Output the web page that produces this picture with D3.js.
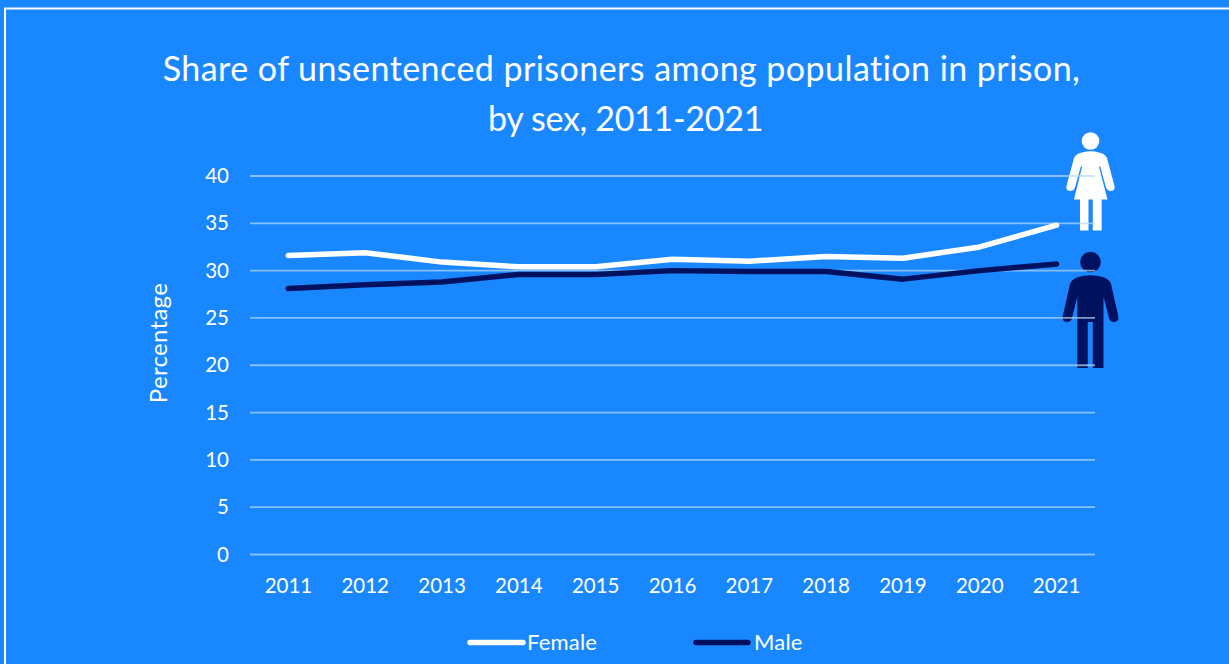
<!DOCTYPE html>
<html><head><meta charset="utf-8">
<script src="https://cdn.jsdelivr.net/npm/d3@7/dist/d3.min.js"></script>
<style>html,body{margin:0;padding:0;background:#1987ff;overflow:hidden}
text{font-family:"Lato",sans-serif;fill:#fff}</style></head>
<body><svg id="c" width="1229" height="664"></svg>
<script>
const years=["2011","2012","2013","2014","2015","2016","2017","2018","2019","2020","2021"];
const female=[31.6,31.9,30.9,30.4,30.4,31.2,31.0,31.5,31.3,32.5,34.8];
const male=[28.1,28.5,28.8,29.6,29.6,30.0,29.9,29.9,29.1,30.0,30.7];
const yTicks=[0,5,10,15,20,25,30,35,40];
const titleLines=["Share of unsentenced prisoners among population in prison,","by sex, 2011-2021"];
const seriesNames=["Female","Male"];
const colors={Female:"#ffffff",Male:"#001160"};

const svg=d3.select("#c");
svg.append("rect").attr("x",5).attr("y",8.5).attr("width",1300).attr("height",700)
  .attr("fill","none").attr("stroke","#fff").attr("stroke-width",2);

const x=d3.scaleBand().domain(years).range([250,1095]);
const y=d3.scaleLinear().domain([0,40]).range([554.5,176]);

// icons sit under the gridlines
const woman=svg.append("g").attr("fill","#fff");
woman.append("circle").attr("cx",1090.5).attr("cy",141).attr("r",8.8);
woman.append("path").attr("d","M1082 152.5 Q1090.5 150 1099 152.5 Q1105 153.5 1107 158 L1114.5 186 Q1115.5 190.5 1111 191 Q1107.5 191 1106 187.5 L1100 166 L1099 167 L1107.5 199.5 L1101.7 199.5 L1101.7 230.5 L1092.8 230.5 L1092.8 199.5 L1088.5 199.5 L1088.5 230.5 L1080 230.5 L1080 199.5 L1074 199.5 L1082 167 L1081 166 L1075 187.5 Q1073.5 191 1070 191 Q1065.5 190.5 1066.5 186 L1074 158 Q1076 153.5 1082 152.5 Z");
const man=svg.append("g").attr("fill","#001160");
man.append("circle").attr("cx",1090.5).attr("cy",262).attr("r",10.3);
man.append("path").attr("d","M1078 277 Q1090.5 273.5 1103 277 Q1110 280 1111 284 L1118.5 317 Q1119 321.5 1114 322 Q1110 322 1109 318 L1103.5 297 L1103.5 368 L1092.8 368 L1092.8 322 L1087.7 322 L1087.7 368 L1077.3 368 L1077.3 297 L1072 318 Q1071 322 1067 322 Q1062 321.5 1062.5 317 L1070 284 Q1071 280 1078 277 Z");

svg.append("g").selectAll("line").data(yTicks).join("line")
  .attr("x1",250).attr("x2",1095).attr("y1",d=>y(d)).attr("y2",d=>y(d))
  .attr("stroke","#b5d8ff").attr("stroke-opacity",0.7).attr("stroke-width",1.8);

svg.append("g").selectAll("text").data(yTicks).join("text")
  .attr("x",229).attr("y",d=>y(d)+7).attr("text-anchor","end").attr("font-size",20.5).text(d=>d);
svg.append("g").selectAll("text").data(years).join("text")
  .attr("x",d=>x(d)+x.bandwidth()/2).attr("y",593).attr("text-anchor","middle").attr("font-size",20.5).text(d=>d);

svg.append("text").attr("transform","translate(167,343) rotate(-90)")
  .attr("text-anchor","middle").attr("font-size",24).attr("letter-spacing",0.3).text("Percentage");

svg.append("g").selectAll("text").data(titleLines).join("text")
  .attr("x",(d,i)=>i?625.5:621.5).attr("y",(d,i)=>81+i*50).attr("text-anchor","middle")
  .attr("font-size",34).attr("letter-spacing",(d,i)=>i?-0.3:0.45).text(d=>d);

const line=d3.line().x((d,i)=>x(years[i])+x.bandwidth()/2).y(d=>y(d));
[[female,"Female"],[male,"Male"]].forEach(([vals,n])=>{
  svg.append("path").datum(vals).attr("d",line).attr("fill","none")
    .attr("stroke",colors[n]).attr("stroke-width",5.5).attr("stroke-linecap","round").attr("stroke-linejoin","round");
});

const lg=[{n:"Female",x1:470,x2:523,t:527},{n:"Male",x1:696,x2:748,t:754}];
lg.forEach(l=>{
  svg.append("line").attr("x1",l.x1).attr("x2",l.x2).attr("y1",642.5).attr("y2",642.5)
    .attr("stroke",colors[l.n]).attr("stroke-width",5.5).attr("stroke-linecap","round");
  svg.append("text").attr("x",l.t).attr("y",650).attr("font-size",22).attr("letter-spacing",0.2).text(l.n);
});
</script></body></html>
